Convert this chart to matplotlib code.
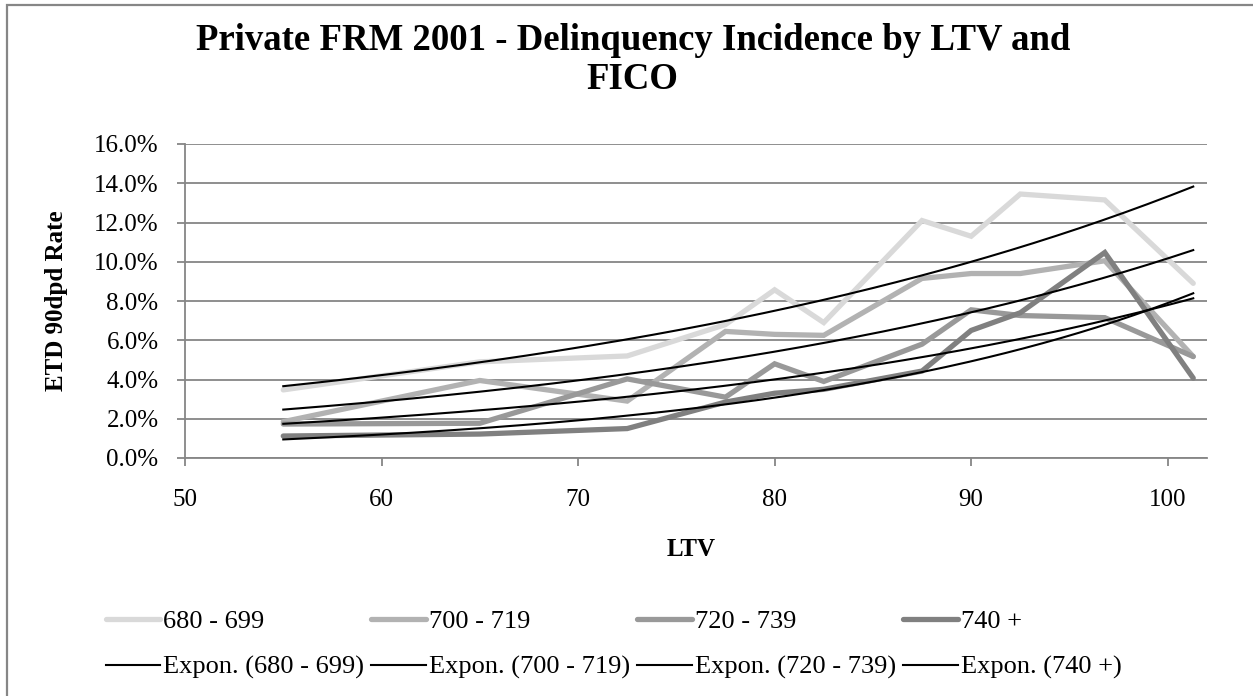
import numpy as np
import matplotlib
matplotlib.use("Agg")
import matplotlib.pyplot as plt
from matplotlib.patches import Rectangle

# LTV bucket midpoints
ltv = [55, 65, 72.5, 77.5, 80, 82.5, 87.5, 90, 92.5, 96.8, 101.3]

# ETD 90dpd rate (%) by FICO band
fico_680_699 = [3.47, 4.9, 5.2, 6.8, 8.57, 6.9, 12.1, 11.3, 13.45, 13.15, 8.9]
fico_700_719 = [1.85, 3.95, 2.9, 6.45, 6.3, 6.25, 9.15, 9.4, 9.4, 10.05, 5.17]
fico_720_739 = [1.73, 1.77, 4.03, 3.1, 4.8, 3.9, 5.8, 7.55, 7.26, 7.15, 5.17]
fico_740_up = [1.12, 1.22, 1.5, 2.85, 3.3, 3.5, 4.43, 6.5, 7.4, 10.47, 4.07]

series_names = ["680 - 699", "700 - 719", "720 - 739", "740 +"]
series_colors = ["#d9d9d9", "#b2b2b2", "#999999", "#808080"]

plt.rcParams["font.family"] = ["Liberation Serif", "DejaVu Serif"]
AX_GRAY = "#868686"
FS = 18

fig = plt.figure(figsize=(12.53, 6.96), dpi=100)
ax = fig.add_axes([185 / 1253, 1 - 458 / 696, (1207 - 185) / 1253, (458 - 144) / 696])

x = np.array(ltv)
all_series = [fico_680_699, fico_700_719, fico_720_739, fico_740_up]
handles = []
for name, vals, col in zip(series_names, all_series, series_colors):
    h, = ax.plot(x, vals, color=col, lw=3.8, solid_capstyle="round",
                 solid_joinstyle="miter", label=name, zorder=2)
    handles.append(h)

# exponential trendlines (least squares on log values, like Excel)
trend_handles = []
xs = np.linspace(x.min(), x.max(), 200)
for name, vals in zip(series_names, all_series):
    b, lna = np.polyfit(x, np.log(vals), 1)
    th, = ax.plot(xs, np.exp(lna + b * xs), color="black", lw=1.5,
                  label=f"Expon. ({name})", zorder=3)
    trend_handles.append(th)

ax.set_xlim(50, 102)
ax.set_ylim(0, 16)
ax.set_xticks([50, 60, 70, 80, 90, 100])
ax.set_yticks(np.arange(0, 17, 2))
ax.set_yticklabels([f"{v:.1f}%" for v in np.arange(0, 17, 2)])
ax.yaxis.grid(True, color=AX_GRAY, lw=1.3)
ax.set_axisbelow(True)
for s in ["top", "right"]:
    ax.spines[s].set_visible(False)
for s in ["left", "bottom"]:
    ax.spines[s].set_color(AX_GRAY)
    ax.spines[s].set_linewidth(1.3)
ax.tick_params(axis="y", direction="out", length=6, color=AX_GRAY, width=1.3,
               labelsize=FS, pad=13)
ax.tick_params(axis="x", direction="out", length=6, color=AX_GRAY, width=1.3,
               labelsize=FS, pad=16)

ax.set_xlabel("LTV", fontsize=FS, fontweight="bold", va="center")
ax.xaxis.set_label_coords(0.495, -(550 - 458) / 314)
ax.set_ylabel("ETD 90dpd Rate", fontsize=FS, fontweight="bold", va="center")
ax.yaxis.set_label_coords(-(185 - 57) / 1022, 0.5)

fig.text(0.505, 1 - 60 / 696, "Private FRM 2001 - Delinquency Incidence by LTV and\nFICO",
         ha="center", va="center", fontsize=26.5, fontweight="bold",
         linespacing=1.12)

# legend: 4 columns, series on top row and trendlines below
leg_handles = []
leg_labels = []
for h, th in zip(handles, trend_handles):
    leg_handles += [h, th]
    leg_labels += [h.get_label(), th.get_label()]
fig.legend(leg_handles, leg_labels, ncol=4, loc="upper left",
           bbox_to_anchor=(95 / 1253, 1 - 599 / 696), frameon=False,
           fontsize=19, handlelength=2.08, handletextpad=0.11,
           columnspacing=0.26, labelspacing=0.85, borderaxespad=0)

# chart area border (cropped at right and bottom)
fig.patches.append(Rectangle((7 / 1253, -0.2), 1.2, 1.2 - 5 / 696,
                             transform=fig.transFigure, fill=False,
                             edgecolor=AX_GRAY, lw=1.6))

fig.savefig("out.png", dpi=100)
